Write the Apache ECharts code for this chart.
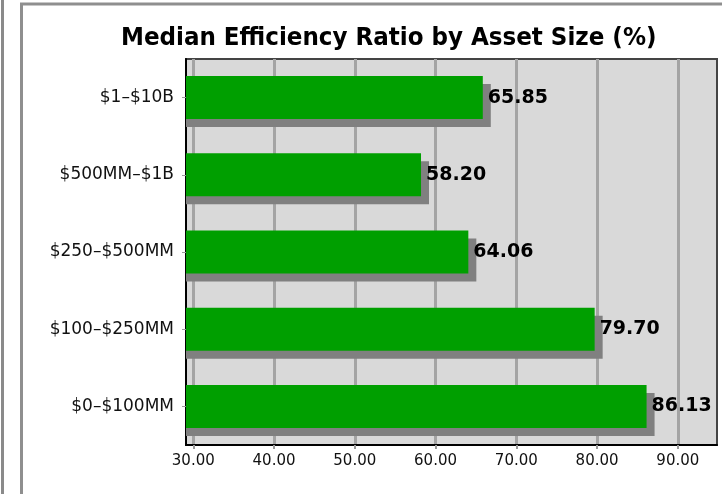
<!DOCTYPE html>
<html>
<head>
<meta charset="utf-8">
<script src="https://cdn.jsdelivr.net/npm/echarts@6/dist/echarts.min.js"></script>
<style>html,body{margin:0;padding:0;background:#fff;}#c{width:722px;height:494px;}</style>
</head>
<body>
<div id="c"></div>
<script>
const titleText = 'Median Efficiency Ratio by Asset Size (%)';
const categories = ['$1–$10B', '$500MM–$1B', '$250–$500MM', '$100–$250MM', '$0–$100MM'];
const values = [65.85, 58.20, 64.06, 79.70, 86.13];
const xTicks = [30, 40, 50, 60, 70, 80, 90];
const xMin = 29.1, xMax = 94.85;

const BAR_H = 43, SH = 8;
const chart = echarts.init(document.getElementById('c'), null, {renderer: 'canvas'});
chart.setOption({
  animation: false,
  backgroundColor: '#fff',
  graphic: [
    {type: 'line', shape: {x1: 2.5, y1: 0, x2: 2.5, y2: 494}, style: {stroke: '#8a8a8a', lineWidth: 3}, silent: true},
    {type: 'polyline', shape: {points: [[21.5, 494], [21.5, 4], [722, 4]]}, style: {stroke: '#8f8f8f', lineWidth: 3, fill: null}, silent: true}
  ],
  title: {
    text: titleText,
    left: 116, top: 20,
    textStyle: {fontFamily: 'DejaVu Sans Condensed', fontWeight: 'bold', fontSize: 25.6, color: '#000'}
  },
  grid: {left: 186, right: 5, top: 59, bottom: 49, show: true, backgroundColor: '#d9d9d9', borderColor: '#444', borderWidth: 2},
  xAxis: {
    type: 'value', min: xMin, max: xMax,
    axisLine: {show: true, lineStyle: {color: '#000', width: 2}},
    axisTick: {show: true, customValues: xTicks, length: 4, lineStyle: {color: '#999', width: 2}},
    axisLabel: {customValues: xTicks, formatter: v => v.toFixed(2), fontFamily: 'DejaVu Sans', fontSize: 15, color: '#111', margin: 9},
    splitLine: {show: true, lineStyle: {color: '#a4a4a4', width: 3}}
  },
  yAxis: {
    type: 'category', data: categories, inverse: true,
    axisLine: {show: true, lineStyle: {color: '#000', width: 2}},
    axisTick: {show: true, alignWithLabel: true, length: 4, lineStyle: {color: '#999'}},
    axisLabel: {fontFamily: 'DejaVu Sans', fontSize: 17, color: '#111', margin: 12},
    splitLine: {show: false}
  },
  series: [{
    type: 'custom',
    data: values.map((v, i) => [v, i]),
    encode: {x: 0, y: 1},
    clip: true,
    renderItem: function (params, api) {
      const end = api.coord([api.value(0), api.value(1)]);
      const left = params.coordSys.x;
      return {
        type: 'rect',
        shape: {x: left, y: end[1] - BAR_H / 2 + SH, width: end[0] - left + SH, height: BAR_H},
        style: {fill: '#808080'}
      };
    }
  }, {
    type: 'bar', data: values, barWidth: BAR_H,
    itemStyle: {color: '#009f00'},
    label: {show: true, position: 'right', distance: 5, formatter: p => p.value.toFixed(2),
      fontFamily: 'DejaVu Sans', fontWeight: 'bold', fontSize: 19, color: '#000'}
  }]
});
</script>
</body>
</html>
